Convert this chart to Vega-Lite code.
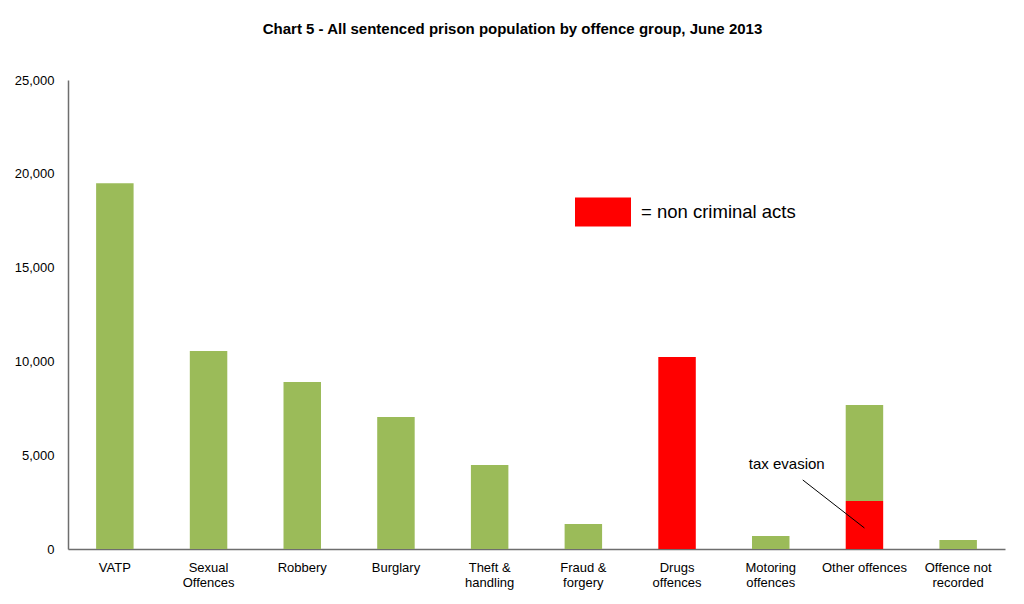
{
  "$schema": "https://vega.github.io/schema/vega-lite/v6.json",
  "width": 937,
  "height": 469,
  "autosize": {"type": "none"},
  "padding": {"left": 68, "top": 80, "right": 19, "bottom": 55},
  "background": "white",
  "title": {
    "text": "Chart 5 - All sentenced prison population by offence group, June 2013",
    "font": "Liberation Sans",
    "fontSize": 15,
    "fontWeight": "bold",
    "color": "black",
    "anchor": "middle",
    "dx": -24,
    "offset": 25,
    "baseline": "alphabetic"
  },
  "config": {
    "view": {"stroke": null},
    "axis": {"labelFont": "Liberation Sans", "labelFontSize": 13, "labelColor": "black", "ticks": false, "grid": false, "domainColor": "#6e6e6e", "domainWidth": 1.5, "title": null}
  },
  "data": {
    "values": [
      {"offence": "VATP", "type": "criminal", "value": 19500},
      {"offence": "Sexual Offences", "type": "criminal", "value": 10560},
      {"offence": "Robbery", "type": "criminal", "value": 8900},
      {"offence": "Burglary", "type": "criminal", "value": 7040},
      {"offence": "Theft & handling", "type": "criminal", "value": 4480},
      {"offence": "Fraud & forgery", "type": "criminal", "value": 1330},
      {"offence": "Drugs offences", "type": "non criminal", "value": 10230},
      {"offence": "Motoring offences", "type": "criminal", "value": 690},
      {"offence": "Other offences", "type": "non criminal", "value": 2560},
      {"offence": "Other offences", "type": "criminal", "value": 5120},
      {"offence": "Offence not recorded", "type": "criminal", "value": 480}
    ]
  },
  "layer": [
    {
      "mark": {"type": "bar"},
      "encoding": {
        "x": {
          "field": "offence",
          "type": "nominal",
          "sort": null,
          "scale": {"paddingInner": 0.6, "paddingOuter": 0.3},
          "axis": {
            "labelAngle": 0,
            "labelPadding": 12,
            "labelBaseline": "top",
            "labelLineHeight": 15,
            "labelExpr": "datum.label == 'Sexual Offences' ? ['Sexual', 'Offences'] : datum.label == 'Theft & handling' ? ['Theft &', 'handling'] : datum.label == 'Fraud & forgery' ? ['Fraud &', 'forgery'] : datum.label == 'Drugs offences' ? ['Drugs', 'offences'] : datum.label == 'Motoring offences' ? ['Motoring', 'offences'] : datum.label == 'Offence not recorded' ? ['Offence not', 'recorded'] : datum.label"
          }
        },
        "y": {
          "field": "value",
          "type": "quantitative",
          "stack": "zero",
          "scale": {"domain": [0, 25000], "nice": false},
          "axis": {"values": [0, 5000, 10000, 15000, 20000, 25000], "labelExpr": "format(datum.value, ',')", "labelPadding": 14}
        },
        "color": {
          "field": "type",
          "type": "nominal",
          "scale": {"domain": ["criminal", "non criminal"], "range": ["#9BBB59", "#FF0000"]},
          "legend": {
            "orient": "none",
            "legendX": 507,
            "legendY": 104,
            "title": null,
            "values": ["non criminal"],
            "padding": 0,
            "symbolType": "M-1,-0.518H1V0.518H-1Z",
            "symbolSize": 3136,
            "symbolStrokeWidth": 0,
            "symbolOpacity": 1,
            "labelFont": "Liberation Sans",
            "labelFontSize": 18.5,
            "labelColor": "black",
            "labelOffset": 10,
            "labelLimit": 400,
            "labelExpr": "'= non criminal acts'"
          }
        },
        "order": {"field": "type", "sort": "descending"}
      }
    },
    {
      "data": {"values": [{"label": "tax evasion", "offence": "Motoring offences", "y": 4270, "offence2": "Other offences", "ystart": 3680, "yend": 1120}]},
      "layer": [
        {
          "mark": {"type": "text", "font": "Liberation Sans", "fontSize": 15, "color": "black", "align": "center", "baseline": "alphabetic", "dx": 16},
          "encoding": {
            "x": {"field": "offence", "type": "nominal", "sort": null},
            "y": {"field": "y", "type": "quantitative"},
            "text": {"field": "label"}
          }
        },
        {
          "mark": {"type": "rule", "color": "black", "strokeWidth": 1, "xOffset": 32},
          "encoding": {
            "x": {"field": "offence", "type": "nominal", "sort": null},
            "x2": {"field": "offence2"},
            "y": {"field": "ystart", "type": "quantitative"},
            "y2": {"field": "yend"}
          }
        }
      ]
    }
  ]
}
